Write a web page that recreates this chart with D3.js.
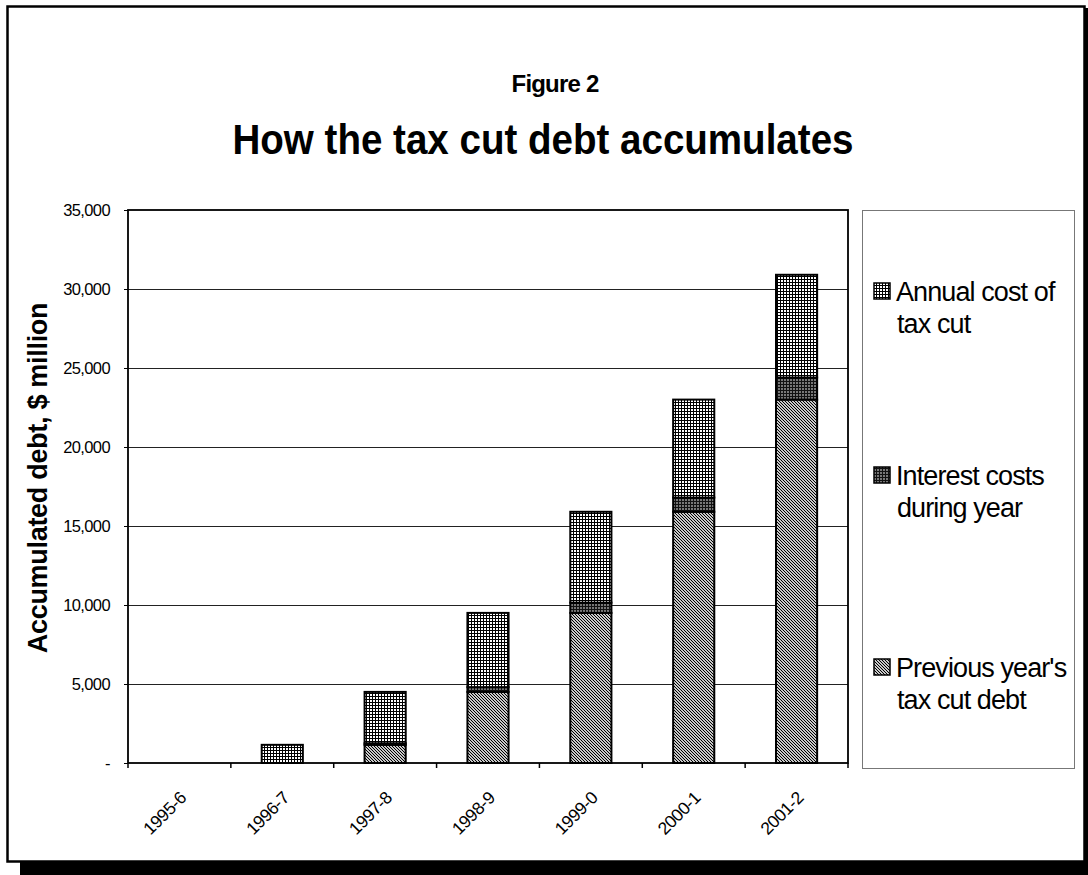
<!DOCTYPE html>
<html>
<head>
<meta charset="utf-8">
<script src="https://cdn.jsdelivr.net/npm/d3@7"></script>
<style>
  body { margin: 0; background: #fff; }
  text { font-family: "Liberation Sans", Arial, sans-serif; fill: #000; }
</style>
</head>
<body>
<div id="sketchpad"></div>
<script>
var categories = ["1995-6", "1996-7", "1997-8", "1998-9", "1999-0", "2000-1", "2001-2"];
var previousDebt = [0, 0, 1150, 4500, 9500, 15900, 23000];
var interestCosts = [0, 0, 100, 300, 650, 900, 1400];
var annualCost = [0, 1150, 3250, 4700, 5750, 6200, 6500];
var yTicks = [0, 5000, 10000, 15000, 20000, 25000, 30000, 35000];

var w = 1088, h = 875;
var plot = { left: 128, right: 848, top: 210, bottom: 763 };

var svg = d3.select("#sketchpad").append("svg")
    .attr("width", w).attr("height", h);

var defs = svg.append("defs");

// annual cost: fine square grid
var pa = defs.append("pattern").attr("id", "pat-annual")
    .attr("patternUnits", "userSpaceOnUse").attr("width", 3).attr("height", 3);
pa.append("rect").attr("width", 3).attr("height", 3).attr("fill", "#fff");
pa.append("path").attr("d", "M0 0.5H3M0.5 0V3").attr("stroke", "#000").attr("stroke-width", 1);

// interest: dark dense grid
var pi = defs.append("pattern").attr("id", "pat-interest")
    .attr("patternUnits", "userSpaceOnUse").attr("width", 3).attr("height", 3);
pi.append("rect").attr("width", 3).attr("height", 3).attr("fill", "#777");
pi.append("path").attr("d", "M0 0.5H3M0.5 0V3").attr("stroke", "#111").attr("stroke-width", 1);

// previous debt: diagonal hatch
var pp = defs.append("pattern").attr("id", "pat-previous")
    .attr("patternUnits", "userSpaceOnUse").attr("width", 3).attr("height", 3);
pp.append("rect").attr("width", 3).attr("height", 3).attr("fill", "#c8c8c8");
pp.append("path").attr("d", "M-1,-1L4,4M-1,2L1,4M2,-1L4,1").attr("stroke", "#000").attr("stroke-width", 1);

var fills = ["url(#pat-previous)", "url(#pat-interest)", "url(#pat-annual)"];

// outer frame with shadow
svg.append("rect").attr("x", 20).attr("y", 862).attr("width", w - 20).attr("height", h - 862).attr("fill", "#000");
svg.append("rect").attr("x", 1084).attr("y", 8).attr("width", 4).attr("height", 860).attr("fill", "#000");
svg.append("rect").attr("x", 7.5).attr("y", 6.5).attr("width", 1077).attr("height", 855)
    .attr("fill", "none").attr("stroke", "#000").attr("stroke-width", 2.5);

// titles
svg.append("text").attr("x", 555).attr("y", 92).attr("text-anchor", "middle")
    .style("font-size", "24px").style("font-weight", "bold").style("letter-spacing", "-0.8px")
    .text("Figure 2");
svg.append("text").attr("x", 543).attr("y", 154).attr("text-anchor", "middle")
    .attr("textLength", 621).attr("lengthAdjust", "spacingAndGlyphs")
    .style("font-size", "42px").style("font-weight", "bold")
    .text("How the tax cut debt accumulates");

// scales
var x = d3.scaleBand().domain(categories).range([plot.left, plot.right]).paddingInner(0.6).paddingOuter(0.3);
var xb = d3.scaleBand().domain(categories).range([plot.left, plot.right]);
var y = d3.scaleLinear().domain([0, 35000]).range([plot.bottom, plot.top]);

// gridlines
svg.append("g").selectAll("line").data(yTicks.slice(1, -1)).enter().append("line")
    .attr("x1", plot.left).attr("x2", plot.right)
    .attr("y1", function(d) { return Math.round(y(d)) + 0.5; })
    .attr("y2", function(d) { return Math.round(y(d)) + 0.5; })
    .attr("stroke", "#222").attr("stroke-width", 1);

// stacked bars
var rows = categories.map(function(c, i) {
    return { cat: c, prev: previousDebt[i], interest: interestCosts[i], annual: annualCost[i] };
});
var stack = d3.stack().keys(["prev", "interest", "annual"])(rows);

svg.append("g").selectAll("g").data(stack).enter().append("g")
    .attr("fill", function(d, i) { return fills[i]; })
    .selectAll("rect").data(function(d) { return d.filter(function(p) { return p[1] > p[0]; }); })
    .enter().append("rect")
    .attr("x", function(d) { return x(d.data.cat); })
    .attr("width", x.bandwidth())
    .attr("y", function(d) { return y(d[1]); })
    .attr("height", function(d) { return y(d[0]) - y(d[1]); })
    .attr("stroke", "#000").attr("stroke-width", 2);

// plot border
svg.append("rect").attr("x", plot.left).attr("y", plot.top)
    .attr("width", plot.right - plot.left).attr("height", plot.bottom - plot.top)
    .attr("fill", "none").attr("stroke", "#000").attr("stroke-width", 1.8);

// y axis
var yAxis = d3.axisLeft(y).tickValues(yTicks).tickSize(4).tickPadding(14)
    .tickFormat(function(d) { return d === 0 ? "-" : d3.format(",")(d); });
var gy = svg.append("g").attr("transform", "translate(" + plot.left + ",0)").call(yAxis);
gy.select(".domain").remove();
gy.selectAll("line").attr("stroke", "#000");
gy.selectAll("text").style("font-size", "16.5px").style("letter-spacing", "-0.6px")
    .style("font-family", "'Liberation Sans', Arial, sans-serif").style("fill", "#000");

// x axis ticks at band edges
var edges = categories.map(function(c) { return xb(c); }).concat([plot.right]);
svg.append("g").selectAll("line").data(edges).enter().append("line")
    .attr("x1", function(d) { return d; }).attr("x2", function(d) { return d; })
    .attr("y1", plot.bottom).attr("y2", plot.bottom + 5)
    .attr("stroke", "#000").attr("stroke-width", 1.5);

svg.append("g").selectAll("text").data(categories).enter().append("text")
    .attr("transform", function(d) {
        return "translate(" + (xb(d) + xb.bandwidth() / 2 + 8) + ",799) rotate(-45)";
    })
    .attr("text-anchor", "end")
    .style("font-size", "17.5px").style("letter-spacing", "-0.4px")
    .text(function(d) { return d; });

// y axis title
svg.append("text").attr("transform", "translate(47,478) rotate(-90)")
    .attr("text-anchor", "middle")
    .style("font-size", "27px").style("font-weight", "bold").style("letter-spacing", "-0.3px")
    .text("Accumulated debt, $ million");

// legend
svg.append("rect").attr("x", 862.5).attr("y", 210.5).attr("width", 212).attr("height", 558)
    .attr("fill", "#fff").attr("stroke", "#777").attr("stroke-width", 1);

var legendItems = [
    { fill: fills[2], lines: ["Annual cost of", "tax cut"], y: 301 },
    { fill: fills[1], lines: ["Interest costs", "during year"], y: 485 },
    { fill: fills[0], lines: ["Previous year's", "tax cut debt"], y: 677 }
];
var lg = svg.append("g").selectAll("g").data(legendItems).enter().append("g");
lg.append("rect").attr("x", 874).attr("y", function(d) { return d.y - 18; })
    .attr("width", 16).attr("height", 16)
    .attr("fill", function(d) { return d.fill; })
    .attr("stroke", "#000").attr("stroke-width", 1.5);
lg.append("text").attr("x", 896).attr("y", function(d) { return d.y; })
    .style("font-size", "27px").style("letter-spacing", "-0.9px")
    .selectAll("tspan").data(function(d) { return d.lines; }).enter().append("tspan")
    .attr("x", function(d, i) { return i === 0 ? 896 : 897; })
    .attr("dy", function(d, i) { return i === 0 ? 0 : 32; })
    .text(function(d) { return d; });
</script>
</body>
</html>
